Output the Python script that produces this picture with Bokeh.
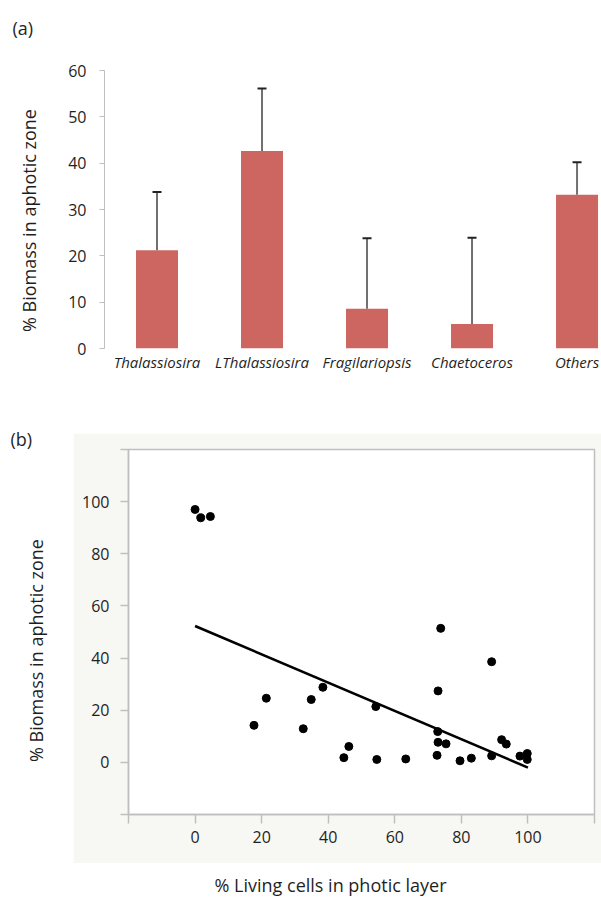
import math
from bokeh.plotting import figure
from bokeh.models import Range1d, FixedTicker, Spacer
from bokeh.core.properties import value
from bokeh.layouts import column, row
from bokeh.embed import file_html
from bokeh.resources import INLINE

# ---------------- data ----------------
categories = ["Thalassiosira", "LThalassiosira", "Fragilariopsis", "Chaetoceros", "Others"]
biomass_mean = [21.2, 42.6, 8.6, 5.3, 33.2]
biomass_upper = [33.8, 56.1, 23.8, 23.9, 40.2]
y_ticks_a = [0, 10, 20, 30, 40, 50, 60]

living_cells = [0.0, 1.7, 4.6, 17.7, 21.4, 32.5, 34.9, 38.4, 44.7, 46.2, 54.3, 54.6, 63.3, 72.7,
                72.9, 73.0, 73.0, 73.8, 75.4, 79.6, 83.0, 89.1, 89.1, 92.1, 93.5, 97.6, 99.8, 99.8]
aphotic_biomass = [97.0, 93.8, 94.3, 14.2, 24.6, 12.9, 24.1, 28.8, 1.8, 6.1, 21.4, 1.1, 1.3, 2.7,
                   11.8, 7.7, 27.4, 51.4, 7.1, 0.6, 1.6, 2.5, 38.6, 8.7, 7.0, 2.4, 3.4, 1.1]
fit_x = [0, 100]
fit_y = [52.3, -2.0]
ticks_b = [-20, 0, 20, 40, 60, 80, 100, 120]
hidden_b = {-20: "", 120: ""}

FONT = "Open Sans"
AXIS_GRAY = "#BFBFBF"
TXT = "#1f1f1f"
BAR = "#CD6660"
PANEL_BG = "#F7F7F3"
Y_TITLE = "% Biomass in aphotic zone"


def clean(p):
    p.outline_line_color = None
    p.grid.grid_line_color = None
    p.background_fill_color = "white"
    p.border_fill_color = "white"


def text_strip(width, height, left, top):
    """An axis-free figure whose frame fills it; data units equal page pixels."""
    p = figure(width=width, height=height, output_backend="svg", toolbar_location=None,
               x_axis_location=None, y_axis_location=None,
               x_range=Range1d(left, left + width), y_range=Range1d(top + height, top),
               min_border_left=0, min_border_right=0, min_border_top=0, min_border_bottom=0)
    clean(p)
    return p


def title_text(p, x, y, txt, angle=0.0, align="left", baseline="middle"):
    p.text(x=[x], y=[y], text=[txt], angle=angle, text_font=value(FONT),
           text_font_size="18px", text_color=TXT, text_baseline=baseline, text_align=align)


# ---------------- panel (a) ----------------
ph = text_strip(601, 50, 0, 0)
title_text(ph, 12, 27, "(a)")

pya = text_strip(60, 375, 0, 50)
title_text(pya, 28, 220, Y_TITLE, angle=math.pi / 2, align="center")

pa = figure(width=541, height=375, output_backend="svg", toolbar_location=None,
            x_range=Range1d(-0.5, 4.233), y_range=Range1d(0, 60),
            min_border_left=44, min_border_right=0, min_border_top=20, min_border_bottom=77)
clean(pa)

xs = list(range(len(categories)))
pa.vbar(x=xs, top=biomass_mean, bottom=0, width=0.4, fill_color=BAR, line_color=None)
pa.segment(x0=xs, y0=biomass_mean, x1=xs, y1=biomass_upper, line_color="#707070", line_width=2)
pa.scatter(x=xs, y=biomass_upper, marker="dash", size=9, line_color="#222222", line_width=2)

ya = pa.yaxis[0]
ya.ticker = FixedTicker(ticks=y_ticks_a)
ya.axis_line_color = AXIS_GRAY
ya.major_tick_line_color = AXIS_GRAY
ya.major_tick_out = 5
ya.major_tick_in = 0
ya.minor_tick_line_color = None
ya.major_label_text_font = FONT
ya.major_label_text_font_size = "16px"
ya.major_label_text_color = TXT
ya.major_label_standoff = 13

xa = pa.xaxis[0]
xa.ticker = FixedTicker(ticks=xs)
xa.major_label_overrides = {i: c for i, c in zip(xs, categories)}
xa.axis_line_color = None
xa.major_tick_line_color = None
xa.minor_tick_line_color = None
xa.major_tick_out = 0
xa.major_tick_in = 0
xa.major_label_standoff = 3
xa.major_label_text_font = FONT
xa.major_label_text_font_size = "15px"
xa.major_label_text_font_style = "italic"
xa.major_label_text_color = TXT

# ---------------- panel (b): left strip with "(b)" and y title ----------------
pyt = text_strip(73, 438, 0, 425)
title_text(pyt, 10, 438.5, "(b)")
title_text(pyt, 35, 650, Y_TITLE, angle=math.pi / 2, align="center")

# ---------------- panel (b): scatter ----------------
pb = figure(width=528, height=430, output_backend="svg", toolbar_location=None,
            x_range=Range1d(ticks_b[0], ticks_b[-1]), y_range=Range1d(ticks_b[0], ticks_b[-1]),
            min_border_left=55, min_border_right=7, min_border_top=16, min_border_bottom=49)
pb.grid.grid_line_color = None
pb.background_fill_color = "white"
pb.border_fill_color = PANEL_BG
pb.outline_line_color = AXIS_GRAY
pb.outline_line_width = 1.5

pb.line(x=fit_x, y=fit_y, line_color="black", line_width=2.6)
pb.scatter(x=living_cells, y=aphotic_biomass, size=8, fill_color="black", line_color="black")

for ax, tick_out, standoff in ((pb.xaxis[0], 9, 7), (pb.yaxis[0], 8, 11)):
    ax.ticker = FixedTicker(ticks=ticks_b)
    ax.major_label_overrides = hidden_b
    ax.axis_line_color = AXIS_GRAY
    ax.axis_line_width = 1.5
    ax.major_tick_line_color = AXIS_GRAY
    ax.major_tick_line_width = 1.5
    ax.major_tick_out = tick_out
    ax.major_tick_in = 0
    ax.minor_tick_line_color = None
    ax.major_label_standoff = standoff
    ax.major_label_text_font = FONT
    ax.major_label_text_font_size = "16px"
    ax.major_label_text_color = TXT

# ---------------- panel (b): x title strip ----------------
pxt = text_strip(601, 36, 0, 863)
title_text(pxt, 330, 884, "% Living cells in photic layer", align="center")

layout = column(row(ph),
                row(row(pya), column(pa)),
                row(pyt, column(Spacer(width=528, height=8), pb)),
                row(pxt))
open("out.html", "w").write(file_html(layout, INLINE))
